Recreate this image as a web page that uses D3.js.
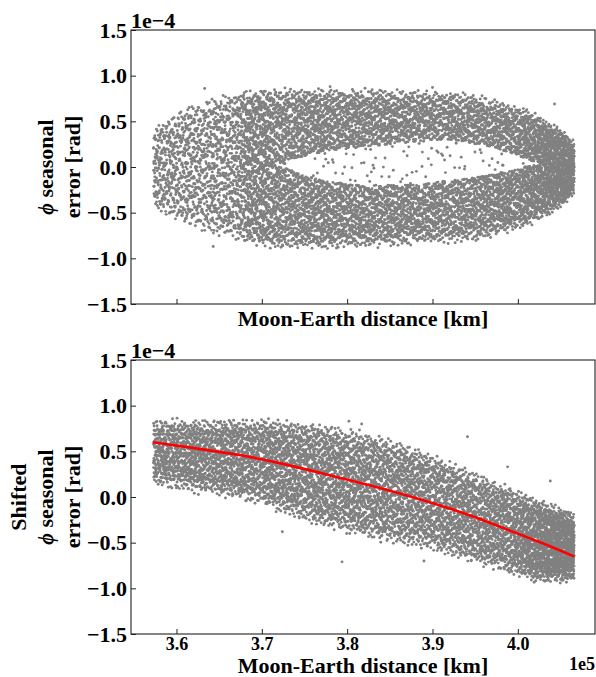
<!DOCTYPE html>
<html><head><meta charset="utf-8">
<script src="https://cdn.jsdelivr.net/npm/d3@7"></script>
<style>
body{margin:0;background:#fff;}
svg text{font-family:"Liberation Serif","Times New Roman",serif;font-weight:bold;fill:#000;}
</style></head>
<body><svg id="c" width="596" height="677"></svg>
<script>
// ---------------- DATA (x in 1e5 km, y in 1e-4 rad) ----------------
// Top panel: envelope of the point cloud (outer upper / outer lower edge) and density
const topX     = [3.573, 3.59, 3.61, 3.64, 3.67, 3.685, 3.70, 3.72, 3.75, 3.78, 3.81, 3.84, 3.87, 3.90, 3.93, 3.96, 3.99, 4.01, 4.025, 4.04, 4.055, 4.066];
const topHi    = [0.38, 0.50, 0.60, 0.70, 0.76, 0.78, 0.80, 0.81, 0.80, 0.80, 0.80, 0.80, 0.79, 0.78, 0.76, 0.72, 0.64, 0.58, 0.50, 0.42, 0.33, 0.22];
const topLo    = [-0.40, -0.50, -0.58, -0.68, -0.75, -0.78, -0.82, -0.84, -0.84, -0.84, -0.83, -0.82, -0.80, -0.78, -0.78, -0.74, -0.66, -0.60, -0.53, -0.45, -0.36, -0.24];
const topDens  = [10, 10, 10, 10, 11, 19, 19, 16, 18, 18, 18, 18, 18, 18, 18, 19, 22, 25, 30, 38, 42, 42];
// Top panel: the sparse hole inside the ring
const holeX    = [3.72, 3.75, 3.78, 3.81, 3.84, 3.87, 3.90, 3.93, 3.96, 3.99, 4.01, 4.025];
const holeHi   = [0.02, 0.12, 0.18, 0.21, 0.24, 0.27, 0.30, 0.29, 0.24, 0.16, 0.09, 0.04];
const holeLo   = [0.02, -0.10, -0.16, -0.19, -0.20, -0.20, -0.17, -0.14, -0.10, -0.05, 0.00, 0.03];
const holeDens = 0.8;
// Bottom panel: band envelope and density
const botX     = [3.573, 3.60, 3.65, 3.70, 3.75, 3.80, 3.85, 3.90, 3.95, 3.99, 4.02, 4.04, 4.066];
const botHi    = [0.78, 0.78, 0.78, 0.78, 0.75, 0.68, 0.57, 0.40, 0.20, 0.04, -0.08, -0.16, -0.24];
const botLo    = [0.20, 0.15, 0.08, -0.02, -0.20, -0.33, -0.43, -0.52, -0.66, -0.77, -0.86, -0.87, -0.85];
const botDens  = [19, 19, 19, 19, 18, 17, 17, 17, 18, 21, 28, 36, 40];
// isolated points visible in the picture
const topOutX  = [3.633, 3.643, 4.043, 3.78, 3.90];
const topOutY  = [0.86, -0.87, 0.69, 0.88, 0.87];
const botOutX  = [3.724, 3.794, 3.89, 3.941, 3.988, 4.038, 3.802, 3.817];
const botOutY  = [-0.38, -0.71, -0.70, 0.66, 0.33, 0.175, 0.83, 0.80];
// Red fitted curve (bottom panel)
const fitX     = [3.572, 3.625, 3.676, 3.722, 3.76, 3.80, 3.838, 3.877, 3.916, 3.947, 3.986, 4.025, 4.066];
const fitY     = [0.60, 0.53, 0.46, 0.37, 0.285, 0.19, 0.10, 0.0, -0.11, -0.21, -0.35, -0.49, -0.65];
// Ticks
const xTicks   = [3.6, 3.7, 3.8, 3.9, 4.0];
const yTicks   = [-1.5, -1.0, -0.5, 0.0, 0.5, 1.0, 1.5];

// ---------------- helpers ----------------
function halton(i, b){ let f = 1, r = 0; while (i > 0){ f /= b; r += f * (i % b); i = Math.floor(i / b); } return r; }
function lerpArr(xs, ys, x){
  if (x <= xs[0]) return ys[0];
  for (let j = 0; j < xs.length - 1; j++){
    if (x <= xs[j+1]){ const t = (x - xs[j]) / (xs[j+1] - xs[j]); return ys[j] + t * (ys[j+1] - ys[j]); }
  }
  return ys[ys.length - 1];
}
// place points inside the read envelopes (deterministic low-discrepancy placement)
function cloud(xs, hi, lo, dens, fringe, hole, seed){
  const pts = []; let g = seed;
  for (let j = 0; j < xs.length - 1; j++){
    const x0 = xs[j], x1 = xs[j+1];
    const dMax = Math.max(dens[j], dens[j+1]);
    const h = ((hi[j]-lo[j]) + (hi[j+1]-lo[j+1])) / 2 + fringe;
    const n = Math.round(dMax * (x1 - x0) / 0.01 * h / 0.1);
    for (let k = 0; k < n; k++, g++){
      const x = x0 + halton(g, 2) * (x1 - x0);
      const a = lerpArr(xs, lo, x), b = lerpArr(xs, hi, x), d = lerpArr(xs, dens, x);
      if (halton(g, 7) > d / dMax) continue;
      const y = a + (b - a) * halton(g, 3) + fringe * (halton(g, 5) - 0.5) * 2;
      if (hole && x > hole.x[0] && x < hole.x[hole.x.length-1]){
        const hl = lerpArr(hole.x, hole.lo, x), hh = lerpArr(hole.x, hole.hi, x);
        if (y > hl && y < hh && halton(g, 11) > hole.d / d) continue;
      }
      pts.push([x, y]);
    }
  }
  return pts;
}

// ---------------- layout ----------------
const svg = d3.select("#c");
const L = 131, R = 595;
const panels = [
  {top: 30,  bottom: 304, labels: ["\u03D5 seasonal", "error [rad]"], xLabels: false},
  {top: 360, bottom: 634, labels: ["Shifted", "\u03D5 seasonal", "error [rad]"], xLabels: true}
];
const x = d3.scaleLinear().domain([3.5467, 4.0904]).range([L, R]);

const topPts = cloud(topX, topHi, topLo, topDens, 0.07,
  {x: holeX, hi: holeHi, lo: holeLo, d: holeDens}, 1)
  .concat(topOutX.map((v, i) => [v, topOutY[i]]));
const botPts = cloud(botX, botHi, botLo, botDens, 0.09, null, 50000)
  .concat(botOutX.map((v, i) => [v, botOutY[i]]));

panels.forEach((p, pi) => {
  const y = d3.scaleLinear().domain([-1.5, 1.5]).range([p.bottom, p.top]);
  const g = svg.append("g");
  const pts = pi === 0 ? topPts : botPts;
  g.append("g").selectAll("circle").data(pts).join("circle")
    .attr("cx", d => x(d[0])).attr("cy", d => y(d[1])).attr("r", 1.45)
    .attr("fill", "#808080");

  if (pi === 1){
    const line = d3.line().x((d, i) => x(fitX[i])).y(d => y(d)).curve(d3.curveBasis);
    g.append("path").attr("d", line(fitY)).attr("fill", "none")
      .attr("stroke", "#ff0000").attr("stroke-width", 2.6);
  }

  // axes
  const ya = d3.axisLeft(y).tickValues(yTicks).tickSize(-5).tickPadding(4)
    .tickFormat(d => d3.format(".1f")(d).replace("-", "\u2212"));
  const yg = g.append("g").attr("transform", `translate(${L},0)`).call(ya);
  yg.selectAll("text").style("font-size", "22px");
  yg.select(".domain").remove();

  const xa = d3.axisBottom(x).tickValues(xTicks).tickSize(-5).tickPadding(3)
    .tickFormat(p.xLabels ? d3.format(".1f") : () => "");
  const xg = g.append("g").attr("transform", `translate(0,${p.bottom})`).call(xa);
  xg.selectAll("text").style("font-size", "18px");
  xg.select(".domain").remove();
  g.selectAll(".tick line").attr("stroke", "#222").attr("stroke-width", 1);

  g.append("rect").attr("x", L).attr("y", p.top).attr("width", R - L).attr("height", p.bottom - p.top)
    .attr("fill", "none").attr("stroke", "#222").attr("stroke-width", 1.1);

  // offset text
  g.append("text").attr("x", L).attr("y", p.top - 2).style("font-size", "22px").text("1e\u22124");

  // x label
  g.append("text").attr("x", (L + R) / 2).attr("y", p.bottom + (p.xLabels ? 39 : 22))
    .attr("text-anchor", "middle").style("font-size", "22px").text("Moon-Earth distance [km]");

  // y label
  const cy = (p.top + p.bottom) / 2;
  const xs = p.labels.length === 3 ? [18, 45, 72] : [45, 72];
  p.labels.forEach((t, i) => {
    const tx = g.append("text").attr("transform", `translate(${xs[i] + 8},${cy}) rotate(-90)`)
      .attr("text-anchor", "middle").style("font-size", "22px");
    if (t.startsWith("\u03D5")){
      tx.append("tspan").style("font-style", "italic").style("font-size", "20px")
        .style("font-family", "'Liberation Serif','DejaVu Serif',serif").text("\u03D5");
      tx.append("tspan").text(t.slice(1));
    } else tx.text(t);
  });
});
svg.append("text").attr("x", 595).attr("y", 670).attr("text-anchor", "end").style("font-size", "18px").text("1e5");
</script></body></html>
